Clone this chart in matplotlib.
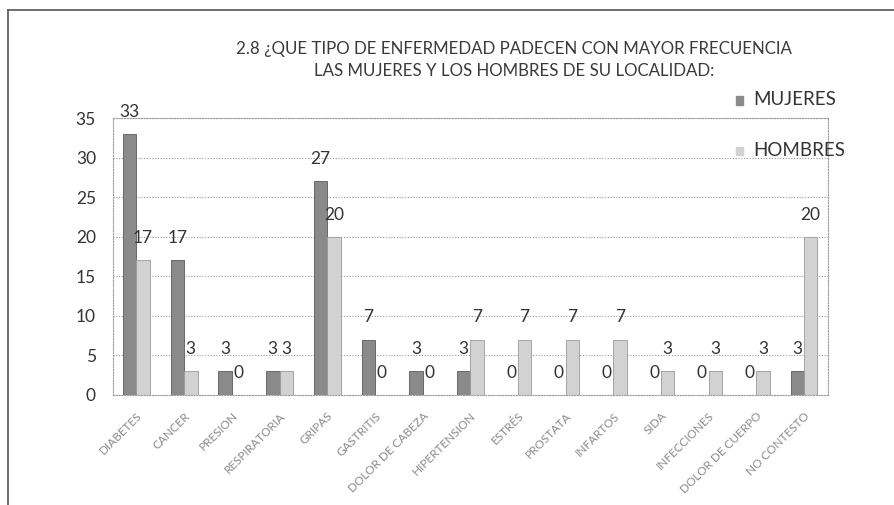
import numpy as np
import matplotlib
matplotlib.use("Agg")
import matplotlib.pyplot as plt

# datos
categorias = ["DIABETES", "CANCER", "PRESION", "RESPIRATORIA", "GRIPAS",
              "GASTRITIS", "DOLOR DE CABEZA", "HIPERTENSION", "ESTRÉS",
              "PROSTATA", "INFARTOS", "SIDA", "INFECCIONES",
              "DOLOR DE CUERPO", "NO CONTESTO"]
mujeres = [33, 17, 3, 3, 27, 7, 3, 3, 0, 0, 0, 0, 0, 0, 3]
hombres = [17, 3, 0, 3, 20, 0, 0, 7, 7, 7, 7, 3, 3, 3, 20]
series = ["MUJERES", "HOMBRES"]
yticks = [0, 5, 10, 15, 20, 25, 30, 35]

titulo = ("2.8 ¿QUE TIPO DE ENFERMEDAD PADECEN CON MAYOR FRECUENCIA\n"
          "LAS MUJERES Y LOS HOMBRES DE SU LOCALIDAD:")

plt.rcParams['font.family'] = ['Lato', 'DejaVu Sans']

fig = plt.figure(figsize=(8.94, 5.05), dpi=100)
ax = fig.add_axes([0.126, 0.218, 0.800, 0.548])

x = np.arange(len(categorias))
w = 0.28
col_m = "#8a8a8a"
col_h = "#d2d2d2"

b1 = ax.bar(x - w / 2, mujeres, w, color=col_m, edgecolor="#5a5a5a", linewidth=0.6)
b2 = ax.bar(x + w / 2, hombres, w, color=col_h, edgecolor="#9a9a9a", linewidth=0.6)

# etiquetas de valores
for barras, vals in [(b1, mujeres), (b2, hombres)]:
    for b, v in zip(barras, vals):
        ax.annotate(str(v), (b.get_x() + b.get_width() / 2, v),
                    xytext=(0, 16), textcoords="offset points",
                    ha="center", va="center", fontsize=12.5, color="#333333")

ax.set_xlim(-0.5, len(categorias) - 0.5)
ax.set_ylim(0, 35)
ax.set_yticks(yticks)
ax.tick_params(axis="y", length=0, pad=12, labelsize=12.5, labelcolor="#333333")
ax.set_xticks(x)
ax.set_xticklabels(categorias, rotation=45, ha="right", rotation_mode="anchor",
                   fontsize=8.5, color="#8a8a8a")
ax.tick_params(axis="x", length=0, pad=11)

ax.grid(axis="y", linestyle=(0, (1, 1.5)), color="#999999", linewidth=0.8)
ax.set_axisbelow(True)
for s in ax.spines.values():
    s.set_linestyle((0, (1, 1.5)))
    s.set_color("#999999")
    s.set_linewidth(0.8)

t = fig.text(0.575, 0.882, titulo, ha="center", va="center", fontsize=13.5,
             color="#3a3a3a", linespacing=1.45)
# ajustar el tamaño del titulo a un ancho de ~560 px
r = fig.canvas.get_renderer()
ancho = t.get_window_extent(renderer=r).width
t.set_fontsize(13.5 * 560 / ancho)

# leyenda
for i, (nombre, c) in enumerate(zip(series, [col_m, col_h])):
    yy = 0.802 - i * 0.10
    fig.patches.append(plt.Rectangle((0.823, yy - 0.009), 0.008, 0.016,
                                     transform=fig.transFigure, color=c))
    fig.text(0.843, yy, nombre, ha="left", va="center", fontsize=13.5,
             color="#333333")

# marco exterior
fig.add_artist(plt.Line2D([0.009, 1.0], [0.980, 0.980], color="#555555", linewidth=1.2))
fig.add_artist(plt.Line2D([0.009, 0.009], [0.0, 0.980], color="#555555", linewidth=1.2))

fig.savefig("out.png", dpi=100)
